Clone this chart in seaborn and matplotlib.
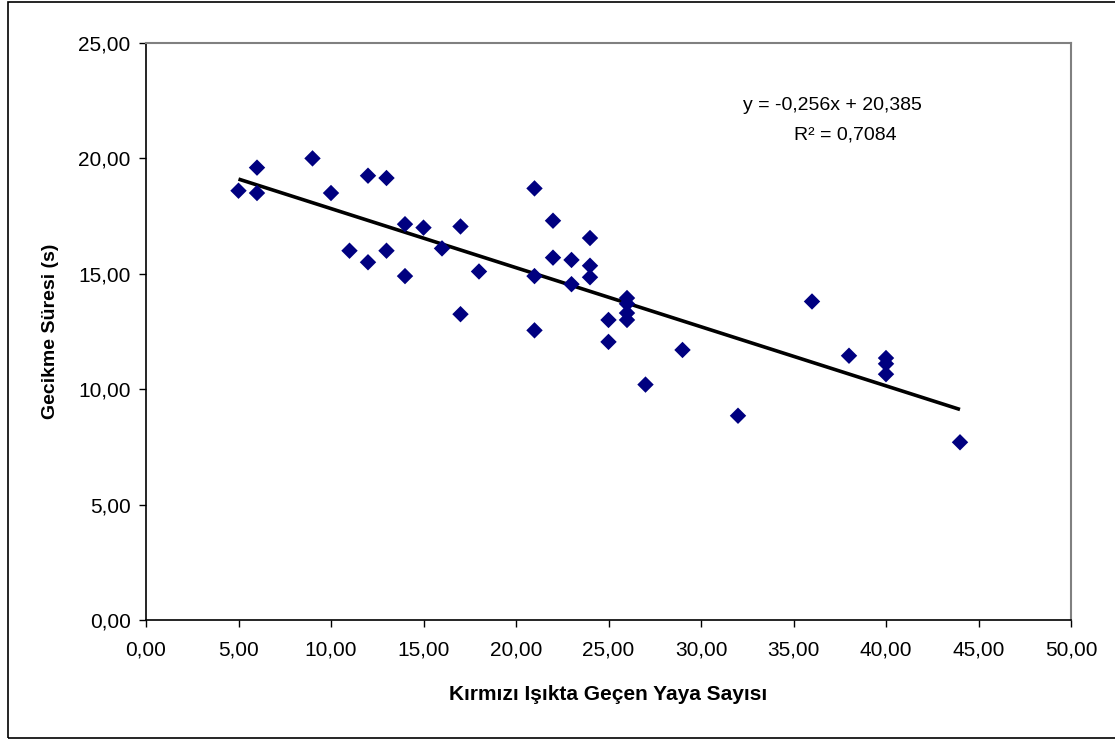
import numpy as np
import pandas as pd
import matplotlib
matplotlib.use("Agg")
import matplotlib.pyplot as plt
from matplotlib.ticker import FuncFormatter
from matplotlib.patches import Rectangle
import seaborn as sns

# Kırmızı ışıkta geçen yaya sayısı ve gecikme süresi (s)
yaya_sayisi = [5, 6, 6, 9, 10, 11, 12, 12, 13, 13, 14, 14, 15, 16, 17, 17, 18,
               21, 21, 21, 22, 22, 23, 23, 24, 24, 24, 25, 25, 26, 26, 26, 26,
               27, 29, 32, 36, 38, 40, 40, 40, 44]
gecikme = [18.6, 19.6, 18.5, 20.0, 18.5, 16.0, 19.25, 15.5, 19.15, 16.0, 17.15, 14.9,
           17.0, 16.1, 17.05, 13.25, 15.1, 18.7, 14.9, 12.55, 17.3, 15.7, 15.6, 14.55,
           16.55, 15.35, 14.85, 13.0, 12.05, 13.95, 13.7, 13.3, 13.0, 10.2, 11.7, 8.85,
           13.8, 11.45, 11.35, 11.1, 10.65, 7.7]

# Doğrusal eğilim çizgisi katsayıları
egim = -0.256
kesisim = 20.385
r_kare = 0.7084

x_ticks = [0, 5, 10, 15, 20, 25, 30, 35, 40, 45, 50]
y_ticks = [0, 5, 10, 15, 20, 25]

df = pd.DataFrame({"yaya": yaya_sayisi, "gecikme": gecikme})

sns.set_style("white", {"text.color": "black", "axes.labelcolor": "black",
                        "xtick.color": "black", "ytick.color": "black"})
plt.rcParams["font.family"] = ["Liberation Sans", "DejaVu Sans"]

fig = plt.figure(figsize=(11.15, 7.4), dpi=100)
ax = fig.add_axes([146 / 1115, 1 - 620 / 740, (1071 - 146) / 1115, (620 - 43) / 740])

sns.scatterplot(data=df, x="yaya", y="gecikme", marker="D", s=70,
                color="#000080", edgecolor="none", ax=ax, zorder=3)

xs = np.array([min(yaya_sayisi), max(yaya_sayisi)])
ax.plot(xs, egim * xs + kesisim, color="black", lw=2.6, zorder=2,
        solid_capstyle="butt")

ax.set_xlim(0, 50)
ax.set_ylim(0, 25)
ax.set_xticks(x_ticks)
ax.set_yticks(y_ticks)
fmt = FuncFormatter(lambda v, p: f"{v:.2f}".replace(".", ","))
ax.xaxis.set_major_formatter(fmt)
ax.yaxis.set_major_formatter(fmt)
ax.tick_params(axis="both", direction="out", length=5, width=1, color="black",
               labelcolor="black", labelsize=15, bottom=True, left=True)
ax.tick_params(axis="x", pad=10)
ax.tick_params(axis="y", pad=6)

for side in ("left", "bottom"):
    ax.spines[side].set_color("black")
    ax.spines[side].set_linewidth(1.2)
for side in ("top", "right"):
    ax.spines[side].set_color("#808080")
    ax.spines[side].set_linewidth(1.5)

ax.set_xlabel("Kırmızı Işıkta Geçen Yaya Sayısı", fontsize=15, color="black",
              fontweight="bold", labelpad=18)
ax.set_ylabel("Gecikme Süresi (s)", fontsize=14, fontweight="bold", color="black",
              labelpad=14)

ax.text(0.7416, 0.891, f"y = {egim:.3f}x + {kesisim:.3f}".replace(".", ","),
        transform=ax.transAxes, ha="center", va="center", fontsize=14, color="black")
ax.text(0.7557, 0.8406, f"R² = {r_kare:.4f}".replace(".", ","),
        transform=ax.transAxes, ha="center", va="center", fontsize=14, color="black")

fig.patches.append(Rectangle((8 / 1115, 2 / 740), 1.2, 736 / 740,
                             transform=fig.transFigure, fill=False,
                             edgecolor="black", linewidth=1.2))

fig.savefig("out.png", dpi=100, facecolor="white")
